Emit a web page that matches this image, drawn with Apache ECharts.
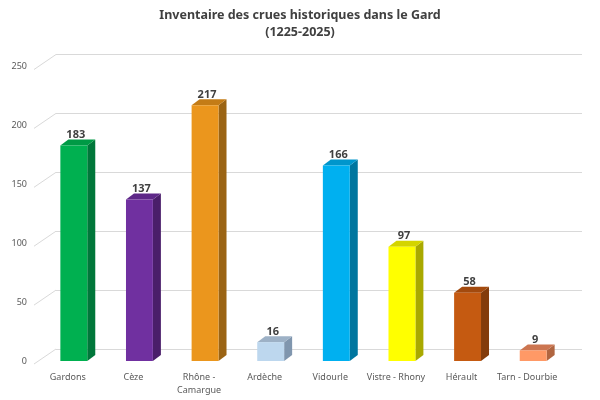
<!DOCTYPE html>
<html>
<head>
<meta charset="utf-8">
<script src="https://cdn.jsdelivr.net/npm/echarts@6/dist/echarts.min.js"></script>
<style>html,body{margin:0;padding:0;background:#fff}#main{width:600px;height:400px}</style>
</head>
<body>
<div id="main"></div>
<script>
// données du graphique
var categories = ['Gardons', 'Cèze', 'Rhône -\nCamargue', 'Ardèche', 'Vidourle', 'Vistre - Rhony', 'Hérault', 'Tarn - Dourbie'];
var values = [183, 137, 217, 16, 166, 97, 58, 9];
var yTicks = [0, 50, 100, 150, 200, 250];

// couleurs : face avant, dessus, côté
var frontColors = ['#00B050', '#7030A0', '#EB961D', '#BDD7EE', '#00B0F0', '#FFFF00', '#C55A11', '#FF9966'];
var topColors   = ['#009A45', '#5E2888', '#C47C16', '#9DB1C6', '#0096CC', '#D4D400', '#A34A0E', '#CC7550'];
var sideColors  = ['#00773A', '#4A1E6A', '#9B6414', '#8096AE', '#00769F', '#A9A900', '#833C0B', '#B06540'];

var font = '"Noto Sans", sans-serif';
var myChart = echarts.init(document.getElementById('main'));

function renderBar(params, api) {
  var i = params.dataIndex;
  var top = api.coord([api.value(0), api.value(1)]);
  var base = api.coord([api.value(0), 0]);
  var w = api.size([1, 0])[0] * 0.41;
  var dx = 8, dy = -6;
  var x0 = top[0] - w / 2, x1 = top[0] + w / 2;
  return {
    type: 'group',
    children: [
      { type: 'polygon', shape: { points: [[x1, top[1]], [x1 + dx, top[1] + dy], [x1 + dx, base[1] + dy], [x1, base[1]]] },
        style: { fill: sideColors[i] } },
      { type: 'polygon', shape: { points: [[x0, top[1]], [x0 + dx, top[1] + dy], [x1 + dx, top[1] + dy], [x1, top[1]]] },
        style: { fill: topColors[i] } },
      { type: 'rect', shape: { x: x0, y: top[1], width: w, height: base[1] - top[1] },
        style: { fill: frontColors[i] } },
      { type: 'text', x: top[0] + 2, y: top[1] + dy + 1,
        style: { text: String(api.value(1)), fill: '#404040', fontFamily: font, fontWeight: 'bold', fontSize: 11,
                 align: 'center', verticalAlign: 'bottom' } }
    ]
  };
}

function renderSlant(params, api) {
  var p = api.coord([0, api.value(1)]);
  var x = params.coordSys.x;
  return { type: 'line', shape: { x1: x - 7, y1: p[1] + 3, x2: x + 15, y2: p[1] - 12 },
           style: { stroke: '#D9D9D9', lineWidth: 1 } };
}

option = {
  backgroundColor: '#fff',
  title: {
    text: 'Inventaire des crues historiques dans le Gard\n(1225-2025)',
    left: 'center', top: 2,
    textStyle: { fontFamily: font, fontWeight: 'bold', fontSize: 12.5, color: '#404040', lineHeight: 17 }
  },
  grid: [
    { left: 41, width: 525, top: 66.5, bottom: 39 },
    { left: 56, right: 18, top: 54.5, bottom: 51 }
  ],
  xAxis: [
    { gridIndex: 0, type: 'category', data: categories,
      axisLine: { show: false }, axisTick: { show: false },
      axisLabel: { interval: 0, margin: 10, padding: [0, 12, 0, 0], color: '#595959', fontFamily: font, fontSize: 9, lineHeight: 13 } },
    { gridIndex: 1, type: 'value', show: false, min: 0, max: 1 }
  ],
  yAxis: [
    { gridIndex: 0, type: 'value', min: 0, max: 250, interval: 50,
      axisLine: { show: false }, axisTick: { show: false }, splitLine: { show: false },
      axisLabel: { margin: 14, padding: [8, 0, 0, 0], color: '#595959', fontFamily: font, fontSize: 9 } },
    { gridIndex: 1, type: 'value', min: 0, max: 250, interval: 50,
      axisLine: { show: false }, axisTick: { show: false }, axisLabel: { show: false },
      splitLine: { show: true, lineStyle: { color: '#D9D9D9', width: 1 } } }
  ],
  series: [
    { type: 'custom', xAxisIndex: 0, yAxisIndex: 0, renderItem: renderSlant, silent: true,
      data: yTicks.map(function (t) { return [0, t]; }), encode: { x: 0, y: 1 }, z: 1 },
    { type: 'custom', xAxisIndex: 0, yAxisIndex: 0, renderItem: renderBar,
      data: values.map(function (v, i) { return [i, v]; }), encode: { x: 0, y: 1 }, z: 3 }
  ]
};

myChart.setOption(option);
</script>
</body>
</html>
